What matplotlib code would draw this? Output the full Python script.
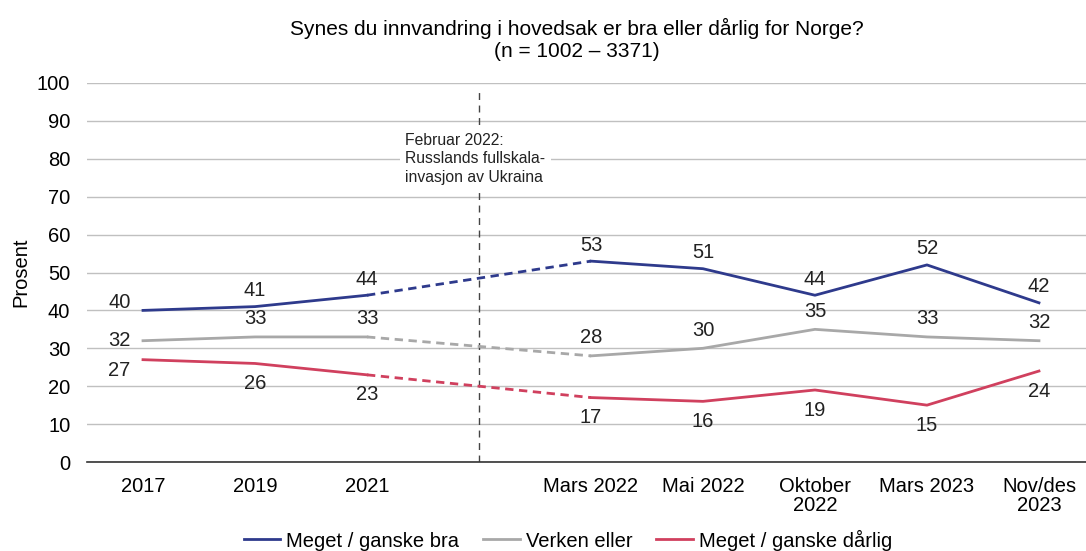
import matplotlib
matplotlib.use("Agg")
import matplotlib.pyplot as plt
import numpy as np

plt.rcParams['font.family'] = ['Liberation Sans', 'DejaVu Sans']

kategorier = ['2017', '2019', '2021', '', 'Mars 2022', 'Mai 2022',
              'Oktober\n2022', 'Mars 2023', 'Nov/des\n2023']
bra = [40, 41, 44, np.nan, 53, 51, 44, 52, 42]
verken = [32, 33, 33, np.nan, 28, 30, 35, 33, 32]
darlig = [27, 26, 23, np.nan, 17, 16, 19, 15, 24]
navn = ['Meget / ganske bra', 'Verken eller', 'Meget / ganske dårlig']
farger = ['#2e3a8c', '#a8a8a8', '#d0405e']

fig = plt.figure(figsize=(10.86, 5.51), dpi=100)
ax = fig.add_axes([87/1086, 1 - 462/551, 1 - 87/1086, (462 - 83)/551])

x = np.arange(len(kategorier))
serier = [bra, verken, darlig]
# label offsets (points): bra/verken over, darlig under
dy = [11.5, 13, -14.5]
first_dy = [6, 0, -8]

for vals, farge, lab, off, off0 in zip(serier, farger, navn, dy, first_dy):
    v = np.array(vals, dtype=float)
    ax.plot(x, v, color=farge, lw=2, label=lab, zorder=3)
    # stiplet linje over invasjonen
    ax.plot([2, 4], [v[2], v[4]], color=farge, lw=2, ls=(0, (3, 2)), zorder=3)
    for i in range(len(v)):
        if np.isnan(v[i]):
            continue
        if i == 0:
            ax.annotate(f'{int(v[i])}', (x[i], v[i]), xytext=(-17, off0),
                        textcoords='offset points', ha='center', va='center',
                        fontsize=14.5, color='#222222', zorder=4)
        else:
            ax.annotate(f'{int(v[i])}', (x[i], v[i]), xytext=(0, off),
                        textcoords='offset points', ha='center', va='center',
                        fontsize=14.5, color='#222222', zorder=4)

ax.axvline(3, ymin=0, ymax=0.985, color='#444444', lw=1, ls=(0, (5, 4)), zorder=2)
ax.text(2.34, 80, 'Februar 2022:\nRusslands fullskala-\ninvasjon av Ukraina',
        fontsize=11.3, ha='left', va='center', linespacing=1.3, color='#222222',
        bbox=dict(facecolor='white', edgecolor='none', pad=4), zorder=5)

ax.set_xlim(-0.5, 8.42)
ax.set_ylim(0, 100)
ax.set_yticks(range(0, 101, 10))
ax.set_xticks(x)
ax.set_xticklabels(kategorier, fontsize=14.5, linespacing=0.95)
ax.tick_params(axis='y', labelsize=14.5, length=0, pad=12)
ax.tick_params(axis='x', length=0, pad=11)
ax.grid(axis='y', color='#c0c0c0', lw=1, zorder=1)
for s in ['top', 'right', 'left']:
    ax.spines[s].set_visible(False)
ax.spines['bottom'].set_color('#333333')
ax.spines['bottom'].set_linewidth(1.2)
ax.set_ylabel('Prosent', fontsize=14.5, labelpad=5)

ax.set_title('Synes du innvandring i hovedsak er bra eller dårlig for Norge?\n(n = 1002 – 3371)',
             fontsize=15, pad=19, linespacing=1.15, x=0.49)

handles = ax.get_lines()[0::2][:3]
fig.legend(handles, navn, loc='lower center', ncol=3, frameon=False, fontsize=14.5,
           bbox_to_anchor=(0.523, -0.032), handlelength=1.8, columnspacing=1.2,
           handletextpad=0.3)

fig.savefig('out.png', dpi=100)
